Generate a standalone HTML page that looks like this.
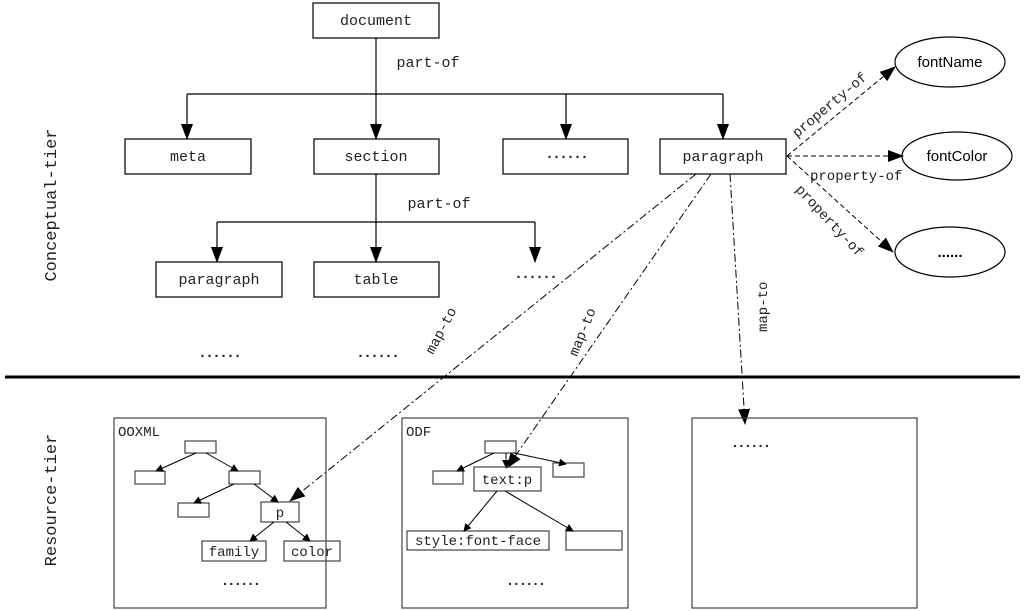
<!DOCTYPE html>
<html><head><style>body{margin:0;background:#fff}svg{display:block}.d{font-weight:bold;letter-spacing:-2px}</style></head><body>
<svg width="1024" height="611" viewBox="0 0 1024 611" xmlns="http://www.w3.org/2000/svg" font-family="Liberation Mono, monospace" font-size="15">
<defs>
<marker id="s" markerWidth="8" markerHeight="8" refX="7" refY="4" orient="auto" markerUnits="userSpaceOnUse" viewBox="0 0 8 8"><path d="M0,0L8,4L0,8z" fill="#000"/></marker>
<marker id="b" markerWidth="16" markerHeight="16" refX="15" refY="8" orient="auto" markerUnits="userSpaceOnUse" viewBox="0 0 16 16"><path d="M0,2L16,8L0,14z" fill="#000"/></marker>
</defs>
<g fill="none" stroke="#000" stroke-width="1.2">
<rect x="313" y="3" width="126" height="35"/>
<rect x="125" y="139" width="126" height="35"/>
<rect x="314" y="139" width="125" height="35"/>
<rect x="503" y="139" width="125" height="35"/>
<rect x="660" y="139" width="126" height="35"/>
<rect x="156" y="262" width="126" height="35"/>
<rect x="314" y="262" width="125" height="35"/>
<path d="M376,38V94M187,94H723"/>
<path d="M376,174V222M217,222H535"/>
</g>
<g stroke="#000" stroke-width="1.2" marker-end="url(#b)">
<path d="M187,94V139"/><path d="M376,94V139"/><path d="M566,94V139"/><path d="M723,94V139"/>
<path d="M217,222V262"/><path d="M376,222V262"/><path d="M535,222V262"/>
</g>
<g text-anchor="middle" fill="#222">
<text x="376" y="25">document</text>
<text x="188" y="161">meta</text>
<text x="376" y="161">section</text>
<text x="566" y="158" class="d">......</text>
<text x="723" y="161">paragraph</text>
<text x="219" y="284">paragraph</text>
<text x="376" y="284">table</text>
<text x="535" y="278" class="d">......</text>
<text x="219" y="357" class="d">......</text>
<text x="377" y="357" class="d">......</text>
<text x="428" y="67">part-of</text>
<text x="439" y="208">part-of</text>
</g>
<g fill="none" stroke="#000" stroke-width="1.2">
<ellipse cx="950" cy="62" rx="55" ry="25"/>
<ellipse cx="957" cy="156" rx="55" ry="24"/>
<ellipse cx="950" cy="252" rx="55" ry="25"/>
</g>
<g font-family="Liberation Sans, sans-serif" text-anchor="middle" font-size="15">
<text x="950" y="67">fontName</text>
<text x="957" y="161">fontColor</text>
<text x="950" y="257" font-weight="bold">......</text>
</g>
<g stroke="#000" stroke-width="1" stroke-dasharray="5,3" marker-end="url(#b)" fill="none">
<path d="M787,156L895,67"/><path d="M787,156L903,156"/><path d="M787,156L893,252"/>
</g>
<g fill="#222" font-size="14">
<text transform="translate(797,138) rotate(-40)">property-of</text>
<text x="810" y="180">property-of</text>
<text transform="translate(795,190) rotate(47)">property-of</text>
</g>
<g stroke="#000" stroke-width="1" stroke-dasharray="8,3,2,3" fill="none" marker-end="url(#b)">
<path d="M696,174L290,501"/>
<path d="M711,174L507,468"/>
<path d="M730,174L745,424"/>
</g>
<g fill="#222" font-size="14">
<text transform="translate(433,355) rotate(-62)">map-to</text>
<text transform="translate(577,357) rotate(-68)">map-to</text>
<text transform="translate(767,332) rotate(-90)">map-to</text>
</g>
<path d="M5,377H1020" stroke="#000" stroke-width="3"/>
<g font-size="17" fill="#222" text-anchor="middle">
<text transform="translate(56,205) rotate(-90)">Conceptual-tier</text>
<text transform="translate(56,500) rotate(-90)">Resource-tier</text>
</g>
<g fill="none" stroke="#444" stroke-width="1.2">
<rect x="114" y="418" width="212" height="190"/>
<rect x="402" y="418" width="226" height="190"/>
<rect x="692" y="418" width="225" height="190"/>
<rect x="185" y="441" width="31" height="12"/>
<rect x="135" y="471" width="30" height="13"/>
<rect x="229" y="471" width="31" height="13"/>
<rect x="178" y="503" width="31" height="14"/>
<rect x="261" y="502" width="38" height="20"/>
<rect x="202" y="541" width="64" height="20"/>
<rect x="284" y="541" width="56" height="20"/>
<rect x="485" y="441" width="31" height="12"/>
<rect x="433" y="471" width="30" height="13"/>
<rect x="474" y="467" width="67" height="24"/>
<rect x="553" y="463" width="31" height="14"/>
<rect x="407" y="531" width="142" height="19"/>
<rect x="566" y="531" width="56" height="19"/>
</g>
<g stroke="#000" stroke-width="1" marker-end="url(#s)">
<path d="M196,453L156,471"/><path d="M206,453L238,471"/>
<path d="M234,484L194,503"/><path d="M254,484L278,502"/>
<path d="M274,522L250,541"/><path d="M286,522L310,541"/>
<path d="M494,453L457,471"/><path d="M506,453L506,467"/><path d="M514,453L566,464"/>
<path d="M497,491L464,531"/><path d="M505,491L573,531"/>
</g>
<g font-size="14" fill="#222">
<text x="118" y="436">OOXML</text>
<text x="406" y="436">ODF</text>
<text x="280" y="517" text-anchor="middle">p</text>
<text x="234" y="556" text-anchor="middle">family</text>
<text x="312" y="556" text-anchor="middle">color</text>
<text x="507" y="484" text-anchor="middle">text:p</text>
<text x="478" y="545" text-anchor="middle">style:font-face</text>
<text x="240" y="585" text-anchor="middle" class="d">......</text>
<text x="525" y="585" text-anchor="middle" class="d">......</text>
<text x="750" y="447" text-anchor="middle" class="d">......</text>
</g>
</svg>
</body></html>
